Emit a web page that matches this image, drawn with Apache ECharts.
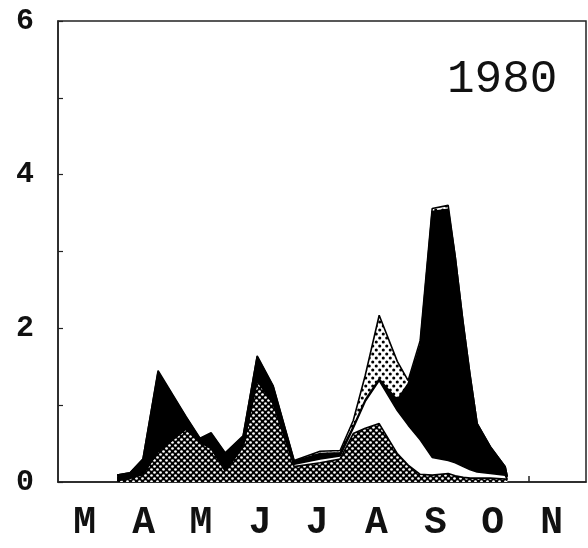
<!DOCTYPE html>
<html>
<head>
<meta charset="utf-8">
<script src="https://cdn.jsdelivr.net/npm/echarts@6/dist/echarts.min.js"></script>
<style>html,body{margin:0;padding:0;background:#fff}#c{width:588px;height:548px}</style>
</head>
<body>
<div id="c"></div>
<script>
// x positions in days after mid-February
const days     = [31.0, 37.8, 44.6, 52.5, 67.2, 74.5, 80.3, 87.7, 97.1, 104.5, 112.9, 123.9, 137.5, 148.0, 154.9, 161.2, 168.5, 178.0, 183.7, 190.0, 196.3, 204.7, 208.4, 212.6, 216.3, 219.9, 226.8, 234.6, 235.7];
// layer values (stacked bottom to top)
const checkered = [0.02, 0.05, 0.10, 0.40, 0.69, 0.52, 0.44, 0.15, 0.46, 1.32, 1.02, 0.20, 0.25, 0.30, 0.63, 0.70, 0.76, 0.37, 0.22, 0.10, 0.09, 0.11, 0.08, 0.06, 0.05, 0.05, 0.05, 0.04, 0.02];
const white     = [0, 0, 0, 0, 0, 0, 0, 0, 0, 0, 0, 0.03, 0.05, 0.04, 0.07, 0.35, 0.56, 0.56, 0.52, 0.45, 0.23, 0.17, 0.17, 0.14, 0.11, 0.08, 0.06, 0.05, 0.01];
const black     = [0.07, 0.07, 0.20, 1.03, 0.15, 0.04, 0.19, 0.22, 0.13, 0.31, 0.22, 0.04, 0.07, 0.04, 0.02, 0.02, 0.02, 0.14, 0.54, 1.23, 3.20, 3.27, 2.68, 1.86, 1.21, 0.63, 0.35, 0.11, 0.04];
const dotted    = [0, 0, 0, 0.02, 0.01, 0.01, 0.01, 0.01, 0.01, 0.01, 0.01, 0.01, 0.03, 0.03, 0.08, 0.32, 0.83, 0.50, 0.04, 0.06, 0.04, 0.05, 0, 0, 0, 0, 0, 0, 0];
const monthLabels = ['M', 'A', 'M', 'J', 'J', 'A', 'S', 'O', 'N'];
const monthDays   = [14, 45, 75, 106, 136, 167, 198, 228, 259];
const yLabels = ['0', '', '2', '', '4', '', '6'];
const yearLabel = '1980';

function pattern(w, h, bg, fg, dots, r) {
  const c = document.createElement('canvas');
  c.width = w; c.height = h;
  const g = c.getContext('2d');
  g.fillStyle = bg; g.fillRect(0, 0, w, h);
  g.fillStyle = fg;
  dots.forEach(d => { g.beginPath(); g.arc(d[0], d[1], r, 0, Math.PI * 2); g.fill(); });
  return { image: c, repeat: 'repeat' };
}
const checkPat = pattern(6, 6, '#000', '#fff', [[1.5, 1.5], [4.5, 4.5]], 1.35);
const dotPat = pattern(7, 8, '#fff', '#000', [[1.75, 2], [5.25, 6]], 1.55);

// cumulative tops of the stacked layers (built from the layer arrays)
const layers = [checkered, white, black, dotted];
const cum = layers.map((_, li) => days.map((d, i) => {
  let s = 0;
  for (let k = 0; k <= li; k++) s += layers[k][i];
  return [d, +s.toFixed(3)];
}));

function area(name, data, fill) {
  return {
    name, type: 'line', data, symbol: 'none', smooth: false,
    lineStyle: { color: '#000', width: 1.6 },
    areaStyle: { color: fill, opacity: 1, origin: 'start' }
  };
}

const chart = echarts.init(document.getElementById('c'), null, { renderer: 'canvas' });
chart.setOption({
  animation: false,
  backgroundColor: '#fff',
  title: {
    text: yearLabel, left: 442, top: 52,
    textStyle: { fontFamily: 'Liberation Mono', fontSize: 46, fontWeight: 'normal', color: '#111' }
  },
  grid: { left: 58, top: 21, right: 2, bottom: 66, show: true, borderColor: '#222', borderWidth: 1.5, backgroundColor: 'transparent' },
  xAxis: {
    type: 'value', min: 0, max: 277,
    splitLine: { show: false },
    axisLine: { show: true, lineStyle: { color: '#222', width: 1.5 } },
    axisTick: { show: true, inside: true, length: 6, customValues: [247], lineStyle: { color: '#222', width: 1.5 } },
    axisLabel: {
      customValues: monthDays,
      formatter: v => monthLabels[monthDays.indexOf(v)] || '',
      fontFamily: 'Liberation Mono', fontWeight: 'bold', fontSize: 38, color: '#111', margin: 22
    }
  },
  yAxis: {
    type: 'value', min: 0, max: 6, interval: 1,
    splitLine: { show: false },
    axisLine: { show: true, lineStyle: { color: '#222', width: 1.5 } },
    axisTick: { show: true, inside: true, length: 5, lineStyle: { color: '#222', width: 1.2 } },
    axisLabel: {
      formatter: v => yLabels[Math.round(v)] || '',
      fontFamily: 'Liberation Mono', fontWeight: 'bold', fontSize: 30, color: '#111', margin: 24
    }
  },
  // drawn top layer first so each lower layer covers the part beneath it
  series: [
    area('dotted', cum[3], dotPat),
    area('black', cum[2], '#000'),
    area('white', cum[1], '#fff'),
    area('checkered', cum[0], checkPat)
  ]
});
</script>
</body>
</html>
